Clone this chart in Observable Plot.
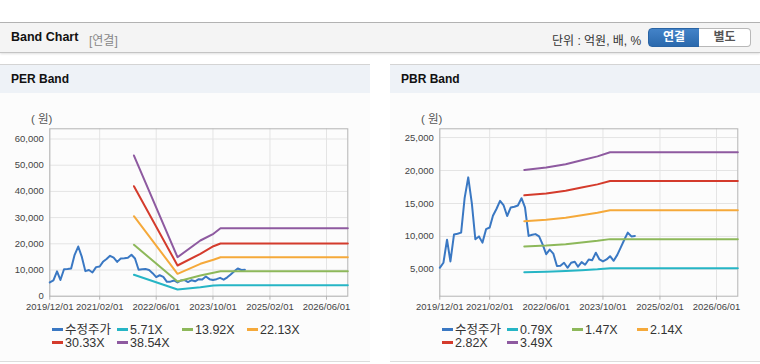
<!DOCTYPE html>
<html><head><meta charset="utf-8">
<script src="https://cdn.jsdelivr.net/npm/d3@7"></script>
<script src="https://cdn.jsdelivr.net/npm/@observablehq/plot@0.6"></script>
<style>
body{margin:0;width:760px;height:364px;background:#fff;position:relative;overflow:hidden;font-family:Arial,"Liberation Sans","Noto Sans CJK KR",sans-serif;}
.abs{position:absolute;}
.topline{left:0;top:22px;width:760px;height:1px;background:#b4b4b4;}
.hdr{left:0;top:23px;width:760px;height:29px;background:#f4f4f4;border-bottom:1px solid #c4c4c4;box-shadow:0 1px 2px rgba(0,0,0,0.12);}
.title{left:11px;top:30px;font-size:12.5px;font-weight:bold;color:#111;}
.sub{left:89px;top:31px;font-size:12px;color:#888;}
.unit{left:552px;top:31px;font-size:12px;color:#333;}
.btn{top:28px;height:19px;font-size:12px;font-weight:bold;text-align:center;line-height:17px;box-sizing:border-box;}
.b1{left:648px;width:52px;background:linear-gradient(#4383c8,#2b69ad);color:#fff;border:1px solid #2a64a4;border-radius:4px 0 0 4px;}
.b2{left:699px;width:52px;background:#fff;color:#555;border:1px solid #b8b8b8;border-left:none;border-radius:0 4px 4px 0;}
.panel{top:64px;width:370px;height:298px;border-top:1px solid #d4d4d4;border-bottom:1px solid #dcdcdc;background:#fcfcfc;box-sizing:border-box;}
.ph{left:0;top:0;width:100%;height:28px;background:#eef2f7;}
.pt{left:11px;top:7px;font-size:12px;font-weight:bold;color:#111;}
.won{font-size:11.5px;color:#555;}
.leg{font-size:12.5px;line-height:13px;height:13px;color:#333;white-space:nowrap;}
.sw{display:inline-block;width:11px;height:3px;vertical-align:middle;margin-right:2px;position:relative;top:-1px;}
svg{overflow:visible;}
</style></head>
<body>
<div class="abs topline"></div>
<div class="abs hdr"></div>
<div class="abs title">Band Chart</div>
<div class="abs sub">[연결]</div>
<div class="abs unit">단위 : 억원, 배, %</div>
<div class="abs btn b1">연결</div>
<div class="abs btn b2">별도</div>

<div class="abs panel" style="left:0"><div class="abs ph"></div><div class="abs pt">PER Band</div></div>
<div class="abs panel" style="left:390px"><div class="abs ph"></div><div class="abs pt">PBR Band</div></div>
<div class="abs won" style="left:31px;top:110px">( 원)</div>
<div class="abs won" style="left:421px;top:110px">( 원)</div>
<div id="per" class="abs" style="left:0;top:100px"></div>
<div id="pbr" class="abs" style="left:390px;top:100px"></div>
<div id="legPer"></div>
<div id="legPbr"></div>

<script>
// ---- data ----
const priceDates = ["2019-12-01","2020-01-01","2020-02-01","2020-03-01","2020-04-01","2020-05-01","2020-06-01","2020-07-01","2020-08-01","2020-09-01","2020-10-01","2020-11-01","2020-12-01",
"2021-01-01","2021-02-01","2021-03-01","2021-04-01","2021-05-01","2021-06-01","2021-07-01","2021-08-01","2021-09-01","2021-10-01","2021-11-01","2021-12-01",
"2022-01-01","2022-02-01","2022-03-01","2022-04-01","2022-05-01","2022-06-01","2022-07-01","2022-08-01","2022-09-01","2022-10-01","2022-11-01","2022-12-01",
"2023-01-01","2023-02-01","2023-03-01","2023-04-01","2023-05-01","2023-06-01","2023-07-01","2023-08-01","2023-09-01","2023-10-01","2023-11-01","2023-12-01",
"2024-01-01","2024-02-01","2024-03-01","2024-04-01","2024-05-01","2024-06-01","2024-07-01"];
const priceValues = [5240,6000,9500,6200,10300,10400,10580,15800,18960,15000,9570,10000,9060,
11100,11350,13130,14200,15400,14700,13100,14400,14500,14700,15800,14400,
10080,10250,10350,10000,8800,7300,8000,7400,5500,5560,6000,5240,
6000,6150,5400,6100,5700,6500,6400,7530,6500,6200,6500,7000,
6300,7200,8300,9500,10580,10000,10080];

const perBandDates = ["2021-11-22","2022-12-01","2023-06-15","2023-10-05","2023-12-05","2026-12-01"];
const perBand571 = [8170,2560,3440,4080,4200,4200];
const perBand1392 = [19620,5610,7900,8930,9540,9540];
const perBand2213 = [30530,8550,12370,13890,14885,14885];
const perBand3033 = [41985,11720,16180,19080,20115,20115];
const perBand3854 = [53700,14885,21260,23820,25950,25950];

const pbrBandDates = ["2021-11-25","2022-06-01","2022-11-15","2023-04-01","2023-08-15","2023-12-01","2026-12-01"];
const pbrBand079 = [4550,4630,4740,4880,5010,5160,5160];
const pbrBand147 = [8460,8610,8820,9080,9330,9590,9590];
const pbrBand214 = [12320,12540,12850,13210,13580,13970,13970];
const pbrBand282 = [16230,16520,16930,17410,17900,18400,18400];
const pbrBand349 = [20090,20450,20950,21550,22150,22780,22780];

const perLabels = ["수정주가","5.71X","13.92X","22.13X","30.33X","38.54X"];
const pbrLabels = ["수정주가","0.79X","1.47X","2.14X","2.82X","3.49X"];
const seriesColors = ["#3a78c3","#26b5c5","#8db85a","#f5a93a","#d43b2c","#8e5aa0"];
const xTickDates = ["2019-12-01","2021-02-01","2022-06-01","2023-10-01","2025-02-01","2026-06-01"];
const xDomain = ["2019-12-01","2026-12-01"];
const perYTicks = [0,10000,20000,30000,40000,50000,60000];
const pbrYTicks = [5000,10000,15000,20000,25000];

// ---- build ----
const parse = s => new Date(s + "T00:00:00Z");
function toRows(dates, vals, key){ return dates.map((d,i)=>({date:parse(d), value:vals[i], key})); }

function chart(bands, bandDates, labels, yDomain, yTicks){
  const price = toRows(priceDates, priceValues, labels[0]);
  const bandRows = bands.map((b,i)=>toRows(bandDates, b, labels[i+1]));
  const marks = [
    Plot.gridX(xTickDates.map(parse), {stroke:"#e4e4e4", strokeOpacity:1}),
    Plot.gridY(yTicks, {stroke:"#e4e4e4", strokeOpacity:1}),
    Plot.frame({stroke:"#b4b4b4"}),
    Plot.axisX(xTickDates.map(parse), {tickFormat:d3.utcFormat("%Y/%m/%d"), tickSize:4, tickPadding:3, stroke:"#b4b4b4", fill:"#444", fontSize:9.5}),
    Plot.axisY(yTicks, {tickFormat:d3.format(","), tickSize:0, tickPadding:6, fill:"#444", fontSize:9.5}),
    Plot.line(price, {x:"date", y:"value", stroke:seriesColors[0], strokeWidth:2, curve:"linear"}),
    ...bandRows.map((rows,i)=>Plot.line(rows, {x:"date", y:"value", stroke:seriesColors[i+1], strokeWidth:2}))
  ];
  return Plot.plot({
    width:370, height:215,
    marginLeft:49.3, marginRight:22.7, marginTop:28.3, marginBottom:19.3,
    style:{background:"transparent", fontFamily:"Arial, 'Liberation Sans', sans-serif", overflow:"visible"},
    x:{type:"utc", domain:xDomain.map(parse), label:null, axis:null},
    y:{domain:yDomain, label:null, axis:null},
    marks
  });
}

document.getElementById("per").append(chart([perBand571,perBand1392,perBand2213,perBand3033,perBand3854], perBandDates, perLabels, [0,63900], perYTicks));
document.getElementById("pbr").append(chart([pbrBand079,pbrBand147,pbrBand214,pbrBand282,pbrBand349], pbrBandDates, pbrLabels, [930,26330], pbrYTicks));

function legend(id, labels, left){
  const el = document.getElementById(id);
  labels.forEach((lab,i)=>{
    const d = document.createElement("div");
    d.className = "abs leg";
    const col = i % 4, row = Math.floor(i/4);
    d.style.left = (left + col*65) + "px";
    d.style.top = (323.5 + row*13.5) + "px";
    d.innerHTML = `<span class="sw" style="background:${seriesColors[i]}"></span>${lab}`;
    el.append(d);
  });
}
legend("legPer", perLabels, 52);
legend("legPbr", pbrLabels, 442);
</script>
</body></html>
